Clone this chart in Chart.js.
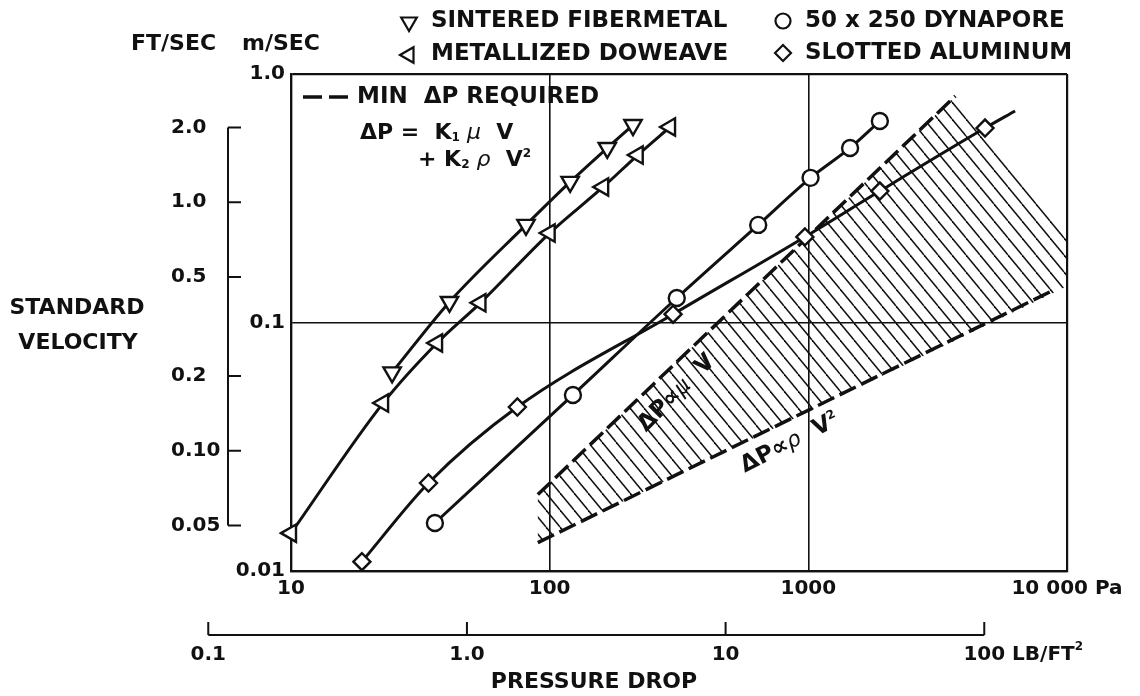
<!DOCTYPE html>
<html>
<head>
<meta charset="utf-8">
<title>Pressure drop vs. standard velocity</title>
<script src="https://cdn.jsdelivr.net/npm/chart.js@4.4.1/dist/chart.umd.min.js"></script>
<style>
  html, body { margin: 0; padding: 0; background: #fff; }
  #grafico { display: block; }
</style>
</head>
<body>
<canvas id="grafico" width="1140" height="696"></canvas>
<script>
// eixos principais: Pa (x) e m/s (y)
const paTicks = [10, 100, 1000, 10000];
const paTickLabels = ['10', '100', '1000', '10 000 Pa'];
const velTicks = [0.01, 0.1, 1];
const velTickLabels = ['0.01', '0.1', '1.0'];

// escalas secundarias: lb/ft2 e ft/s
const lbTicks = [0.1, 1, 10, 100];
const lbTickLabels = ['0.1', '1.0', '10', '100'];
const ftTicks = [2.0, 1.0, 0.5, 0.2, 0.10, 0.05];
const ftTickLabels = ['2.0', '1.0', '0.5', '0.2', '0.10', '0.05'];
const PA_PER_LB = 47.88;
const MS_PER_FT = 0.3048;

// materiais (queda de pressao em Pa, velocidade em m/s)
const sinteredDp = [24.6, 41, 81, 120, 167, 210];
const sinteredVel = [0.063, 0.121, 0.247, 0.368, 0.504, 0.623];

const doweaveDp = [10, 22.7, 36.7, 54, 100, 161, 219, 292];
const doweaveVel = [0.0142, 0.0474, 0.0827, 0.120, 0.229, 0.351, 0.472, 0.612];

const dynaporeDp = [36, 123, 310, 640, 1020, 1450, 1890];
const dynaporeVel = [0.0156, 0.0511, 0.1255, 0.247, 0.382, 0.504, 0.647];

const slottedDp = [18.8, 34, 75, 300, 970, 1890, 4820, 6300];
const slottedVel = [0.0109, 0.0226, 0.0457, 0.108, 0.221, 0.338, 0.606, 0.71];

// faixa de queda minima exigida
const muLineDp = [90, 3700];
const muLineVel = [0.0203, 0.815];
const rhoLineDp = [90, 9000];
const rhoLineVel = [0.0130, 0.136];
const faixaDp = [90, 3700, 10000, 10000, 90];
const faixaVel = [0.0203, 0.815, 0.221, 0.140, 0.0130];

const FONT = '"DejaVu Sans", sans-serif';
const bold23 = `bold 23px ${FONT}`;
const bold22 = `bold 22px ${FONT}`;
const bold20 = `bold 20px ${FONT}`;
const bold12 = `bold 12px ${FONT}`;
const ital22 = `italic 22px ${FONT}`;
const INK = '#111';

const pontos = (xs, ys) => xs.map((x, i) => ({ x, y: ys[i] }));

function hachura() {
  const c = document.createElement('canvas');
  c.width = 14; c.height = 17;
  const g = c.getContext('2d');
  g.strokeStyle = INK;
  g.lineWidth = 1.5;
  for (const dx of [-14, 0, 14]) {
    g.beginPath();
    g.moveTo(dx, 0);
    g.lineTo(dx + 14, 17);
    g.stroke();
  }
  return grafico.getContext('2d').createPattern(c, 'repeat');
}

function serie(label, xs, ys, style, rot, radius) {
  return {
    label,
    data: pontos(xs, ys),
    borderColor: INK,
    borderWidth: 3,
    pointStyle: style,
    pointRotation: rot,
    pointRadius: radius,
    pointBorderWidth: 2.4,
    pointBackgroundColor: '#fff',
    pointBorderColor: INK,
    cubicInterpolationMode: 'monotone',
    fill: false,
    clip: false
  };
}

function texto(ctx, s, x, y, font, align = 'left') {
  ctx.font = font;
  ctx.textAlign = align;
  ctx.fillText(s, x, y);
}

// escreve trechos com fontes diferentes em sequencia
function trechos(ctx, x, y, partes) {
  ctx.textAlign = 'left';
  partes.forEach(([s, font, dy]) => {
    ctx.font = font;
    ctx.fillText(s, x, y + (dy || 0));
    x += ctx.measureText(s).width;
  });
}

function marcador(ctx, style, rot, x, y, r) {
  ctx.fillStyle = '#fff';
  ctx.strokeStyle = INK;
  ctx.lineWidth = 2.2;
  Chart.helpers.drawPoint(ctx, { pointStyle: style, rotation: rot, radius: r, borderWidth: 2.2 }, x, y);
  ctx.fillStyle = INK;
}

const extras = {
  id: 'extras',
  afterDraw(chart) {
    const { ctx, scales: { x, y } } = chart;
    ctx.save();
    ctx.fillStyle = INK;
    ctx.strokeStyle = INK;
    ctx.textBaseline = 'middle';

    // escala ft/s
    const bx = 228;
    const fy = ftTicks.map(v => y.getPixelForValue(v * MS_PER_FT));
    ctx.lineWidth = 2;
    ctx.beginPath();
    ctx.moveTo(bx, fy[0]);
    ctx.lineTo(bx, fy[fy.length - 1]);
    fy.forEach(p => { ctx.moveTo(bx, p); ctx.lineTo(bx + 13, p); });
    ctx.stroke();
    ftTickLabels.forEach((s, i) => texto(ctx, s, 171, fy[i], bold20));

    // escala lb/ft2
    const ly = 635;
    const lx = lbTicks.map(v => x.getPixelForValue(v * PA_PER_LB));
    ctx.beginPath();
    ctx.moveTo(lx[0], ly);
    ctx.lineTo(lx[lx.length - 1], ly);
    lx.forEach(p => { ctx.moveTo(p, ly); ctx.lineTo(p, ly - 13); });
    ctx.stroke();
    lbTickLabels.forEach((s, i) => texto(ctx, s, lx[i], ly + 20, bold20, 'center'));
    ctx.font = bold20;
    const fim = lx[lx.length - 1] + ctx.measureText('100').width / 2;
    trechos(ctx, fim, ly + 20, [[' LB/FT', bold20], ['2', bold12, -8]]);

    // titulos dos eixos
    texto(ctx, 'FT/SEC', 131, 44, bold22);
    texto(ctx, 'm/SEC', 242, 44, bold22);
    texto(ctx, 'STANDARD', 77, 308, bold22, 'center');
    texto(ctx, 'VELOCITY', 78, 343, bold22, 'center');
    texto(ctx, 'PRESSURE DROP', 594, 682, bold22, 'center');

    // legenda do topo
    marcador(ctx, 'triangle', 180, 409, 22, 9);
    texto(ctx, 'SINTERED FIBERMETAL', 431, 21, bold23);
    marcador(ctx, 'triangle', -90, 409, 55, 9);
    texto(ctx, 'METALLIZED DOWEAVE', 431, 54, bold23);
    marcador(ctx, 'circle', 0, 783, 21, 7.5);
    texto(ctx, '50 x 250 DYNAPORE', 805, 21, bold23);
    marcador(ctx, 'rectRot', 0, 783, 53, 8);
    texto(ctx, 'SLOTTED ALUMINUM', 805, 53, bold23);

    // legenda interna
    ctx.lineWidth = 3.5;
    ctx.beginPath();
    ctx.moveTo(303, 97); ctx.lineTo(322, 97);
    ctx.moveTo(329, 97); ctx.lineTo(348, 97);
    ctx.stroke();
    texto(ctx, 'MIN  \u0394P REQUIRED', 357, 97, bold23);
    trechos(ctx, 360, 133, [['\u0394P =  K', bold22], ['1', bold12, 5], [' \u03bc', ital22], ['  V', bold22]]);
    trechos(ctx, 418, 160, [['+ K', bold22], ['2', bold12, 5], [' \u03c1', ital22], ['  V', bold22], ['2', bold12, -6]]);

    // rotulos inclinados da faixa
    ctx.save();
    ctx.translate(680, 390);
    ctx.rotate(-45 * Math.PI / 180);
    trechos(ctx, -54, 0, [['\u0394P', bold23], ['\u221d', bold23], ['\u03bc', ital22], ['  V', bold23]]);
    ctx.restore();

    ctx.save();
    ctx.translate(792, 442);
    ctx.rotate(-27 * Math.PI / 180);
    trechos(ctx, -56, 0, [['\u0394P', bold23], ['\u221d', bold23], ['\u03c1', ital22], ['  V', bold23], ['2', bold12, -6]]);
    ctx.restore();

    ctx.restore();
  }
};

const bordas = (n) => (c) => (c.index === 0 || c.index === n - 1) ? 2.2 : 1.6;

new Chart(grafico, {
  type: 'line',
  data: {
    datasets: [
      serie('SINTERED FIBERMETAL', sinteredDp, sinteredVel, 'triangle', 180, 10),
      serie('METALLIZED DOWEAVE', doweaveDp, doweaveVel, 'triangle', -90, 10),
      serie('50 x 250 DYNAPORE', dynaporeDp, dynaporeVel, 'circle', 0, 8),
      serie('SLOTTED ALUMINUM', slottedDp, slottedVel, 'rectRot', 0,
        slottedDp.map((_, i) => i === slottedDp.length - 1 ? 0 : 8.5)),
      {
        label: 'dP ~ mu V',
        data: pontos(muLineDp, muLineVel),
        borderColor: INK, borderWidth: 3.5, borderDash: [18, 6],
        pointRadius: 0, fill: false, tension: 0
      },
      {
        label: 'dP ~ rho V2',
        data: pontos(rhoLineDp, rhoLineVel),
        borderColor: INK, borderWidth: 3.5, borderDash: [18, 6],
        pointRadius: 0, fill: false, tension: 0
      },
      {
        label: 'MIN dP REQUIRED',
        data: pontos(faixaDp, faixaVel),
        borderWidth: 0,
        borderColor: 'rgba(0,0,0,0)',
        backgroundColor: hachura(),
        pointRadius: 0,
        fill: 'shape',
        tension: 0
      }
    ]
  },
  options: {
    responsive: false,
    animation: false,
    devicePixelRatio: 1,
    layout: { padding: { left: 0, right: 73, top: 74, bottom: 0 } },
    plugins: { legend: { display: false }, tooltip: { enabled: false } },
    scales: {
      x: {
        type: 'logarithmic',
        min: 10,
        max: 10000,
        afterBuildTicks: (s) => { s.ticks = paTicks.map(v => ({ value: v })); },
        afterFit: (s) => { s.height = 125; },
        ticks: {
          autoSkip: false, maxRotation: 0, padding: 6, color: INK,
          font: { family: FONT, size: 20, weight: 'bold' },
          callback: (v) => paTickLabels[paTicks.indexOf(v)]
        },
        grid: { color: INK, lineWidth: bordas(paTicks.length), drawTicks: false },
        border: { color: INK, width: 2.2 }
      },
      y: {
        type: 'logarithmic',
        min: 0.01,
        max: 1,
        afterBuildTicks: (s) => { s.ticks = velTicks.map(v => ({ value: v })); },
        afterFit: (s) => { s.width = 291; },
        ticks: {
          autoSkip: false, padding: 6, color: INK,
          font: { family: FONT, size: 20, weight: 'bold' },
          callback: (v) => velTickLabels[velTicks.indexOf(v)]
        },
        grid: { color: INK, lineWidth: bordas(velTicks.length), drawTicks: false },
        border: { color: INK, width: 2.2 }
      }
    }
  },
  plugins: [extras]
});
</script>
</body>
</html>
